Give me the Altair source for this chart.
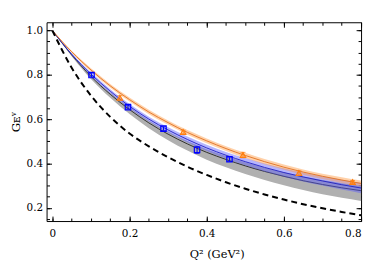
import altair as alt
import pandas as pd

# ---- curve values (Q^2 grid) ----
q2_grid = [0.0, 0.05, 0.10, 0.15, 0.20, 0.25, 0.30, 0.35, 0.40,
           0.45, 0.50, 0.55, 0.60, 0.65, 0.70, 0.75, 0.80]
orange_fit = [1.0, 0.904, 0.822, 0.750, 0.688, 0.632, 0.584, 0.540, 0.502,
              0.467, 0.436, 0.408, 0.383, 0.361, 0.342, 0.325, 0.310]
orange_err = [0.0, 0.004, 0.007, 0.008, 0.009, 0.010, 0.010, 0.011, 0.011,
              0.011, 0.012, 0.012, 0.012, 0.012, 0.012, 0.013, 0.013]
blue_fit = [1.0, 0.893, 0.803, 0.726, 0.658, 0.600, 0.551, 0.508, 0.470,
            0.437, 0.408, 0.382, 0.359, 0.339, 0.321, 0.304, 0.289]
blue_err = [0.0, 0.004, 0.007, 0.009, 0.010, 0.011, 0.012, 0.013, 0.014,
            0.015, 0.016, 0.018, 0.019, 0.020, 0.021, 0.022, 0.023]
black_fit = [1.0, 0.890, 0.793, 0.712, 0.643, 0.583, 0.532, 0.488, 0.450,
             0.418, 0.389, 0.364, 0.342, 0.322, 0.305, 0.290, 0.277]
gray_up = [0.0, 0.004, 0.006, 0.008, 0.010, 0.011, 0.012, 0.013, 0.014,
           0.015, 0.016, 0.017, 0.018, 0.019, 0.020, 0.021, 0.022]
gray_dn = [0.0, 0.006, 0.012, 0.016, 0.020, 0.024, 0.027, 0.030, 0.033,
           0.035, 0.037, 0.039, 0.041, 0.042, 0.044, 0.045, 0.046]
dashed_fit = [1.0, 0.832, 0.706, 0.610, 0.535, 0.477, 0.428, 0.385, 0.348,
              0.315, 0.286, 0.260, 0.237, 0.216, 0.198, 0.181, 0.166]

# ---- data points ----
blue_q2 = [0.1015, 0.196, 0.288, 0.375, 0.459]
blue_ge = [0.799, 0.654, 0.557, 0.461, 0.419]
blue_dge = [0.008, 0.008, 0.009, 0.016, 0.009]
orange_q2 = [0.175, 0.339, 0.494, 0.639, 0.778]
orange_ge = [0.696, 0.542, 0.438, 0.357, 0.316]
orange_dge = [0.010, 0.008, 0.012, 0.010, 0.007]

# ---- ticks ----
x_major = [0.0, 0.2, 0.4, 0.6, 0.8]
x_minor = [0.0, 0.05, 0.1, 0.15, 0.2, 0.25, 0.3, 0.35, 0.4, 0.45, 0.5,
           0.55, 0.6, 0.65, 0.7, 0.75, 0.8]
y_major = [0.2, 0.4, 0.6, 0.8, 1.0]
y_minor = [0.15, 0.2, 0.25, 0.3, 0.35, 0.4, 0.45, 0.5, 0.55, 0.6, 0.65,
           0.7, 0.75, 0.8, 0.85, 0.9, 0.95, 1.0]

curves = pd.DataFrame({
    "q2": q2_grid,
    "oc": orange_fit,
    "olo": [c - e for c, e in zip(orange_fit, orange_err)],
    "ohi": [c + e for c, e in zip(orange_fit, orange_err)],
    "bc": blue_fit,
    "blo": [c - e for c, e in zip(blue_fit, blue_err)],
    "bhi": [c + e for c, e in zip(blue_fit, blue_err)],
    "kc": black_fit,
    "klo": [c - e for c, e in zip(black_fit, gray_dn)],
    "khi": [c + e for c, e in zip(black_fit, gray_up)],
    "dash": dashed_fit,
})
blue_pts = pd.DataFrame({
    "q2": blue_q2, "ge": blue_ge,
    "lo": [g - d for g, d in zip(blue_ge, blue_dge)],
    "hi": [g + d for g, d in zip(blue_ge, blue_dge)],
})
orange_pts = pd.DataFrame({
    "q2": orange_q2, "ge": orange_ge,
    "lo": [g - d for g, d in zip(orange_ge, orange_dge)],
    "hi": [g + d for g, d in zip(orange_ge, orange_dge)],
})

XS = alt.Scale(domain=[-0.015, 0.8], nice=False, zero=False)
YS = alt.Scale(domain=[0.14, 1.037], nice=False, zero=False)
FONT = "DejaVu Serif"


def axis(orient, values, size, labels, title=None, **kw):
    return alt.Axis(orient=orient, values=values, tickSize=size, offset=-size,
                    domain=False, grid=False, labels=labels, title=title,
                    ticks=True, tickColor="black", tickWidth=1, **kw)


x_main = axis("bottom", x_major, 5, True, "Q² (GeV²)",
              labelPadding=8, labelFont=FONT, labelFontSize=10.5,
              labelColor="black",
              labelExpr="datum.value == 0 ? '0' : format(datum.value, '.1f')",
              titleFont=FONT, titleFontSize=11.5, titleFontWeight="normal",
              titleColor="black", titlePadding=9, titleX=172)
y_main = axis("left", y_major, 5, True, "Gᴇᵛ",
              labelPadding=4, labelFont=FONT, labelFontSize=10.5,
              labelColor="black", format=".1f",
              titleFont=FONT, titleFontSize=12, titleFontWeight="normal",
              titleColor="black", titlePadding=4)

gray_band = alt.Chart(curves).mark_area(color="#b0b0b0", interpolate="monotone").encode(
    x=alt.X("q2:Q", scale=XS, axis=x_main),
    y=alt.Y("klo:Q", scale=YS, axis=y_main),
    y2="khi:Q",
)
black_line = alt.Chart(curves).mark_line(color="#222222", strokeWidth=0.9,
                                         interpolate="monotone").encode(
    x=alt.X("q2:Q", scale=XS, axis=axis("bottom", x_minor, 3, False)),
    y=alt.Y("kc:Q", scale=YS, axis=axis("left", y_minor, 3, False)),
)
blue_band = alt.Chart(curves).mark_area(color="#5a5aff", opacity=0.45,
                                        interpolate="monotone").encode(
    x=alt.X("q2:Q", scale=XS, axis=axis("top", x_major, 5, False)),
    y=alt.Y("blo:Q", scale=YS, axis=axis("right", y_major, 5, False)),
    y2="bhi:Q",
)
blue_line = alt.Chart(curves).mark_line(color="#2020c0", strokeWidth=0.9,
                                        interpolate="monotone").encode(
    x=alt.X("q2:Q", scale=XS, axis=axis("top", x_minor, 3, False)),
    y=alt.Y("bc:Q", scale=YS, axis=axis("right", y_minor, 3, False)),
)
orange_band = alt.Chart(curves).mark_area(color="#ff9a40", opacity=0.45,
                                          interpolate="monotone").encode(
    x=alt.X("q2:Q", scale=XS, axis=None),
    y=alt.Y("olo:Q", scale=YS, axis=None),
    y2="ohi:Q",
)
orange_line = alt.Chart(curves).mark_line(color="#e07020", strokeWidth=0.9,
                                          interpolate="monotone").encode(
    x=alt.X("q2:Q", scale=XS, axis=None),
    y=alt.Y("oc:Q", scale=YS, axis=None),
)
dashed_line = alt.Chart(curves).mark_line(color="black", strokeWidth=2,
                                          strokeDash=[6, 4],
                                          interpolate="monotone").encode(
    x=alt.X("q2:Q", scale=XS, axis=None),
    y=alt.Y("dash:Q", scale=YS, axis=None),
)


def points(df, color, shape):
    rule = alt.Chart(df).mark_rule(color=color, strokeWidth=1).encode(
        x=alt.X("q2:Q", scale=XS, axis=None),
        y=alt.Y("lo:Q", scale=YS, axis=None),
        y2="hi:Q",
    )
    cap_hi = alt.Chart(df).mark_tick(color=color, orient="horizontal",
                                     size=5, thickness=1).encode(
        x=alt.X("q2:Q", scale=XS, axis=None),
        y=alt.Y("hi:Q", scale=YS, axis=None),
    )
    cap_lo = alt.Chart(df).mark_tick(color=color, orient="horizontal",
                                     size=5, thickness=1).encode(
        x=alt.X("q2:Q", scale=XS, axis=None),
        y=alt.Y("lo:Q", scale=YS, axis=None),
    )
    pt = alt.Chart(df).mark_point(color=color, shape=shape, filled=False,
                                  size=30, strokeWidth=1.2, opacity=1).encode(
        x=alt.X("q2:Q", scale=XS, axis=None),
        y=alt.Y("ge:Q", scale=YS, axis=None),
    )
    return [rule, cap_hi, cap_lo, pt]


layers = [gray_band, black_line, blue_band, blue_line, orange_band,
          orange_line, dashed_line]
layers += points(blue_pts, "#0000ff", "square")
layers += points(orange_pts, "#ff7f0e", "triangle-up")

chart = alt.layer(*layers).resolve_axis(
    x="independent", y="independent"
).properties(
    width=318, height=201,
    autosize=alt.AutoSizeParams(type="none"),
    padding={"left": 39, "top": 13, "right": 5, "bottom": 42},
).configure_view(stroke="black", strokeWidth=1)

chart.save("out.html", embed_options={"renderer": "svg", "actions": False})
